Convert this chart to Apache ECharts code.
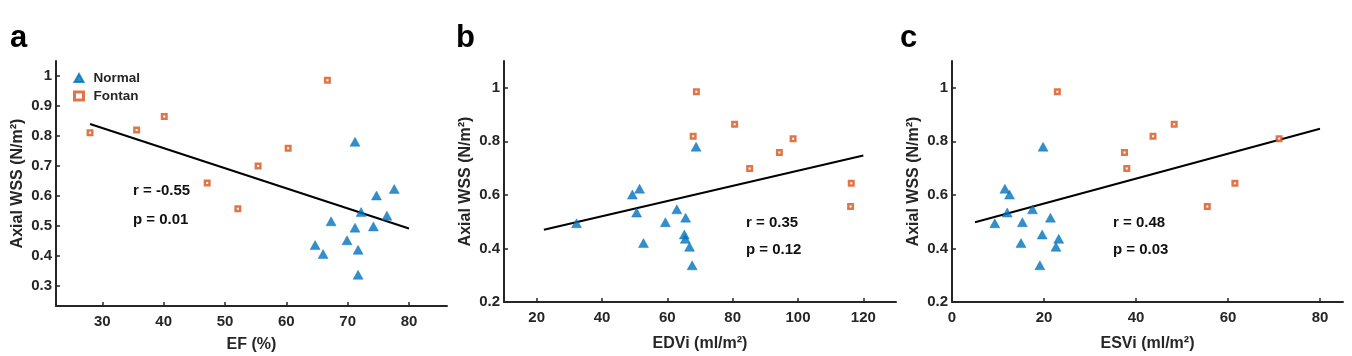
<!DOCTYPE html>
<html>
<head>
<meta charset="utf-8">
<script src="https://cdn.jsdelivr.net/npm/echarts@6/dist/echarts.min.js"></script>
<style>
html,body{margin:0;padding:0;background:#fff;}
#c{width:1352px;height:356px;}
</style>
</head>
<body>
<div id="c"></div>
<script>
// ---- data ----
const normalWSS = [0.780, 0.623, 0.601, 0.534, 0.546, 0.498, 0.515, 0.494, 0.452, 0.420, 0.436, 0.406, 0.337];
const normalEF   = [71.2, 77.6, 74.7, 76.4, 72.2, 74.2, 67.3, 71.2, 69.9, 71.7, 64.7, 66.0, 71.7];
const normalEDVi = [68.8, 51.5, 49.3, 50.6, 62.9, 59.4, 65.6, 32.2, 65.2, 52.7, 65.5, 66.8, 67.6];
const normalESVi = [19.8, 11.5, 12.5, 12.0, 17.5, 15.3, 21.4, 9.3, 19.6, 15.0, 23.2, 22.6, 19.1];

const fontanWSS  = [0.810, 0.819, 0.864, 0.643, 0.557, 0.699, 0.758, 0.985];
const fontanEF   = [28.0, 35.6, 40.1, 47.1, 52.1, 55.4, 60.3, 66.7];
const fontanEDVi = [98.5, 67.9, 80.6, 116.3, 116.1, 85.2, 94.3, 68.9];
const fontanESVi = [71.1, 43.7, 48.3, 61.5, 55.5, 38.0, 37.5, 22.9];

// regression line end points [x, y]
const fitEF   = [[28, 0.839], [80, 0.491]];
const fitEDVi = [[22.2, 0.470], [120, 0.747]];
const fitESVi = [[5, 0.498], [80, 0.847]];

const efTicks   = [30, 40, 50, 60, 70, 80];
const edviTicks = [20, 40, 60, 80, 100, 120];
const esviTicks = [0, 20, 40, 60, 80];
const wssTicksA = [0.3, 0.4, 0.5, 0.6, 0.7, 0.8, 0.9, 1];
const wssTicksBC = [0.2, 0.4, 0.6, 0.8, 1];

const panelLetters = ['a', 'b', 'c'];
const statsText = [['r = -0.55', 'p = 0.01'], ['r = 0.35', 'p = 0.12'], ['r = 0.48', 'p = 0.03']];
const legendNames = ['Normal', 'Fontan'];
const xNames = ['EF (%)', 'EDVi (ml/m²)', 'ESVi (ml/m²)'];
const yName = 'Axial WSS (N/m²)';

// ---- styles ----
const FONT = '"Liberation Sans", Arial, sans-serif';
const TXT = '#262626';
const BLUE = '#0072BD';
const ORANGE = '#D95319';

const zip = (xs, ys) => xs.map((x, i) => [x, ys[i]]);

const grids = [
  {left: 56, top: 61, width: 391, height: 245, outerBoundsMode: 'none', containLabel: false},
  {left: 504, top: 61, width: 392, height: 241, outerBoundsMode: 'none', containLabel: false},
  {left: 952, top: 61, width: 391, height: 241, outerBoundsMode: 'none', containLabel: false}
];

const axisLineStyle = {show: true, lineStyle: {color: TXT, width: 2}};
const tickStyle = {show: true, inside: true, length: 4, lineStyle: {color: TXT, width: 1.5}};
const labelStyle = {color: TXT, fontFamily: FONT, fontWeight: 'bold', fontSize: 15};
const nameStyle = {color: TXT, fontFamily: FONT, fontWeight: 'bold', fontSize: 16};

function xAxis(idx, min, max, ticks, name, gap) {
  return {
    type: 'value', gridIndex: idx, min: min, max: max,
    name: name, nameLocation: 'middle', nameGap: gap,
    nameTextStyle: nameStyle,
    axisLine: axisLineStyle,
    axisTick: Object.assign({customValues: ticks}, tickStyle),
    axisLabel: Object.assign({customValues: ticks, margin: 8}, labelStyle),
    splitLine: {show: false}
  };
}
function yAxis(idx, min, max, ticks) {
  return {
    type: 'value', gridIndex: idx, min: min, max: max,
    name: yName, nameLocation: 'middle', nameGap: 30, nameRotate: 90,
    nameTextStyle: nameStyle,
    axisLine: axisLineStyle,
    axisTick: Object.assign({customValues: ticks}, tickStyle),
    axisLabel: Object.assign({customValues: ticks, margin: 4}, labelStyle),
    splitLine: {show: false}
  };
}

const xVals = [[normalEF, fontanEF], [normalEDVi, fontanEDVi], [normalESVi, fontanESVi]];
const fits = [fitEF, fitEDVi, fitESVi];

const series = [];
for (let i = 0; i < 3; i++) {
  series.push({
    type: 'line', xAxisIndex: i, yAxisIndex: i, data: fits[i], symbol: 'none',
    lineStyle: {color: '#000', width: 2}, silent: true, z: 1
  });
  series.push({
    name: legendNames[0], type: 'scatter', xAxisIndex: i, yAxisIndex: i,
    data: zip(xVals[i][0], normalWSS), symbol: 'triangle', symbolSize: [10, 9],
    itemStyle: {color: BLUE, borderColor: BLUE, borderWidth: 0.5}, z: 3
  });
  series.push({
    name: legendNames[1], type: 'scatter', xAxisIndex: i, yAxisIndex: i,
    data: zip(xVals[i][1], fontanWSS), symbol: 'rect', symbolSize: 4.5,
    itemStyle: {color: '#fff', borderColor: ORANGE, borderWidth: 2.5}, z: 3
  });
}

const letterPos = [[10, 23], [456, 23], [900, 23]];
const statPos = [[133, 191, 220], [746, 223, 250], [1113, 223, 250]];
const graphic = [];
panelLetters.forEach((l, i) => {
  graphic.push({type: 'text', left: letterPos[i][0], top: letterPos[i][1],
    style: {text: l, font: 'bold 31px ' + FONT, fill: '#000'}});
});
statsText.forEach((s, i) => {
  graphic.push({type: 'text', x: statPos[i][0], y: statPos[i][1],
    style: {text: s[0], font: 'bold 15px ' + FONT, fill: '#111', verticalAlign: 'middle'}});
  graphic.push({type: 'text', x: statPos[i][0], y: statPos[i][2],
    style: {text: s[1], font: 'bold 15px ' + FONT, fill: '#111', verticalAlign: 'middle'}});
});

const option = {
  animation: false,
  backgroundColor: '#fff',
  grid: grids,
  xAxis: [
    xAxis(0, 22.45, 86.2, efTicks, xNames[0], 31),
    xAxis(1, 10, 130, edviTicks, xNames[1], 34),
    xAxis(2, 0, 85, esviTicks, xNames[2], 34)
  ],
  yAxis: [
    yAxis(0, 0.233, 1.049, wssTicksA),
    yAxis(1, 0.2, 1.1, wssTicksBC),
    yAxis(2, 0.2, 1.1, wssTicksBC)
  ],
  legend: {
    data: [
      {name: legendNames[0], icon: 'triangle'},
      {name: legendNames[1], icon: 'rect', itemStyle: {color: '#fff', borderColor: ORANGE, borderWidth: 3}}
    ],
    orient: 'vertical', left: 73, top: 71, padding: 0, itemWidth: 9, itemHeight: 8, itemGap: 4,
    textStyle: {color: TXT, fontFamily: FONT, fontWeight: 'bold', fontSize: 13.5, lineHeight: 14, padding: [0, 0, 0, 5]},
    selectedMode: false
  },
  graphic: graphic,
  series: series
};

const chart = echarts.init(document.getElementById('c'), null, {renderer: 'canvas'});
chart.setOption(option);
</script>
</body>
</html>
